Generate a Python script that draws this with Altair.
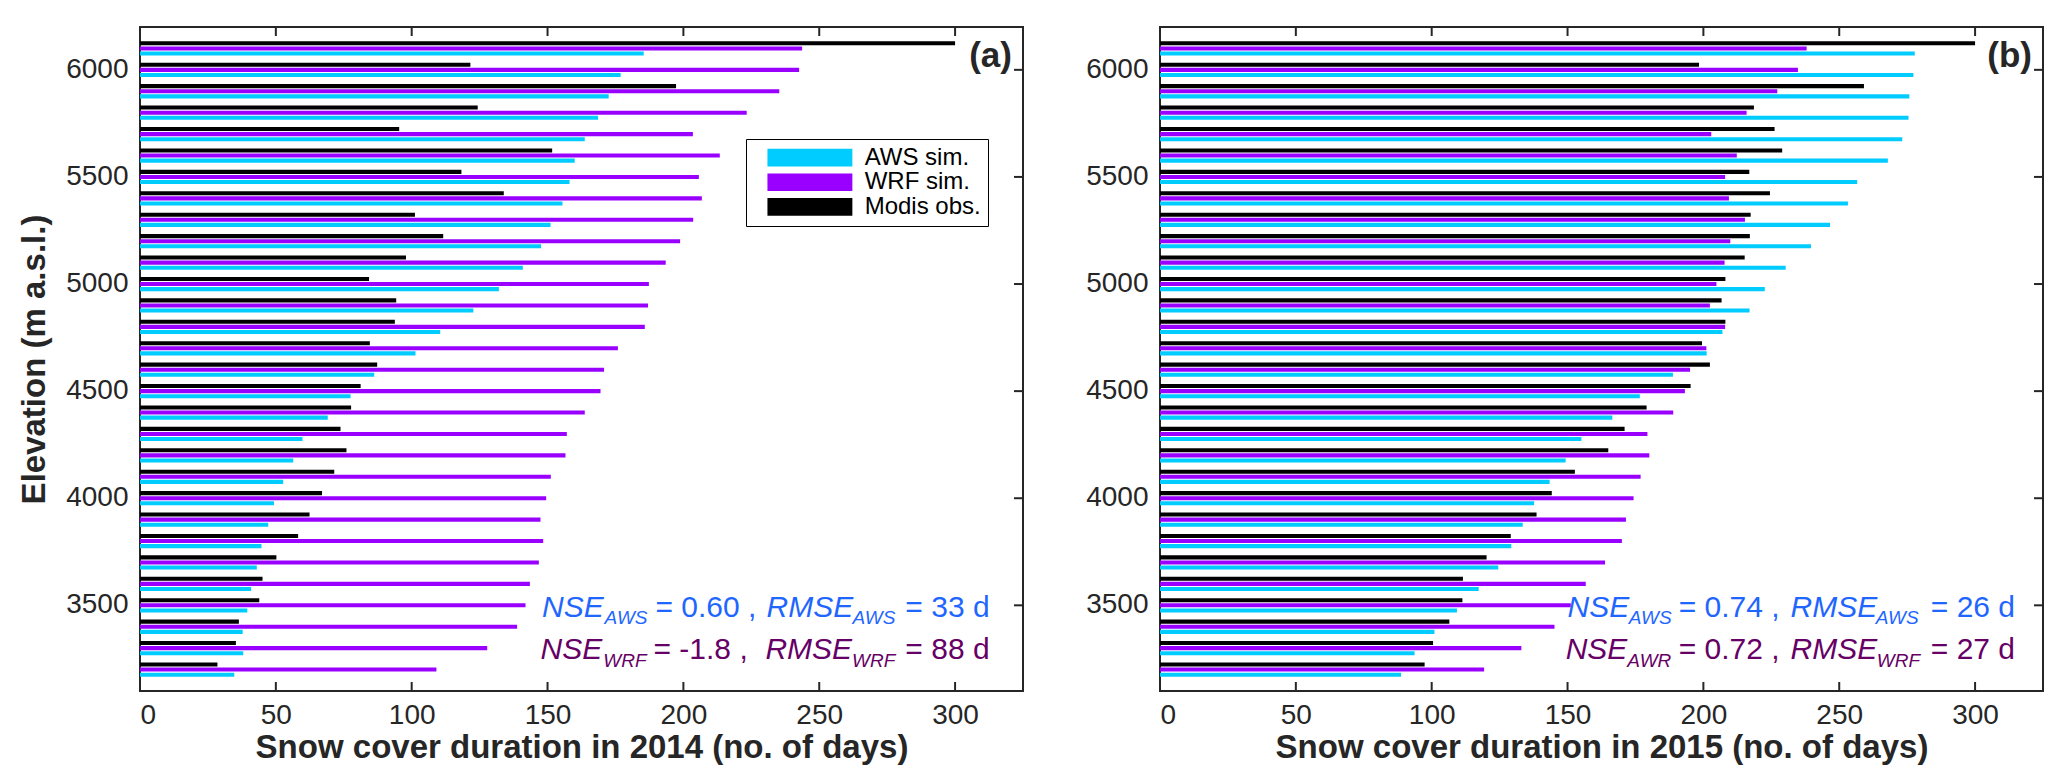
import altair as alt
import pandas as pd

# ---------------- data ----------------
elevations = [6100, 6000, 5900, 5800, 5700, 5600, 5500, 5400, 5300, 5200,
              5100, 5000, 4900, 4800, 4700, 4600, 4500, 4400, 4300, 4200,
              4100, 4000, 3900, 3800, 3700, 3600, 3500, 3400, 3300, 3200]

aws_2014 = [185.4, 176.9, 172.5, 168.6, 163.7, 160.0, 158.1, 155.5, 151.1, 147.6,
            140.9, 132.1, 122.7, 110.5, 101.4, 86.2, 77.5, 69.1, 59.8, 56.4,
            52.7, 49.3, 47.2, 44.7, 43.0, 40.9, 39.5, 37.8, 38.0, 34.7]
wrf_2014 = [243.7, 242.6, 235.3, 223.3, 203.5, 213.4, 205.7, 206.8, 203.6, 198.8,
            193.5, 187.3, 187.0, 185.8, 175.9, 170.8, 169.5, 163.7, 157.1, 156.6,
            151.2, 149.5, 147.4, 148.4, 146.8, 143.5, 141.9, 138.8, 127.8, 109.1]
modis_2014 = [300.0, 121.6, 197.3, 124.3, 95.4, 151.7, 118.3, 133.9, 101.2, 111.6,
              97.9, 84.3, 94.3, 93.8, 84.6, 87.3, 81.2, 77.7, 73.8, 76.0,
              71.5, 67.0, 62.4, 58.2, 50.2, 45.1, 43.9, 36.4, 35.3, 28.5]

aws_2015 = [277.8, 277.3, 275.8, 275.5, 273.2, 267.9, 256.6, 253.2, 246.6, 239.6,
            230.3, 222.6, 217.0, 207.0, 201.2, 188.8, 176.6, 166.5, 155.1, 149.3,
            143.4, 137.7, 133.5, 129.3, 124.5, 117.3, 109.3, 101.0, 93.7, 88.7]
wrf_2015 = [238.0, 234.8, 227.2, 215.9, 202.9, 212.3, 208.0, 209.4, 215.3, 209.9,
            207.8, 204.8, 202.4, 208.0, 201.1, 195.1, 193.2, 188.9, 179.4, 180.1,
            176.9, 174.3, 171.5, 170.0, 163.8, 156.7, 151.2, 145.2, 133.0, 119.3]
modis_2015 = [300.0, 198.4, 259.1, 218.6, 226.2, 229.0, 216.9, 224.5, 217.4, 217.1,
              215.2, 208.1, 206.7, 208.1, 199.5, 202.4, 195.3, 179.1, 171.0, 165.0,
              152.7, 144.2, 138.6, 129.1, 120.2, 111.5, 111.3, 106.5, 100.5, 97.4]

series_names = ["AWS sim.", "WRF sim.", "Modis obs."]
offset_order = ["Modis obs.", "WRF sim.", "AWS sim."]
series_colors = ["#00ccff", "#9900ff", "#000000"]

x_ticks = [0, 50, 100, 150, 200, 250, 300]
y_ticks = [6000, 5500, 5000, 4500, 4000, 3500]

# statistics text: (text, kind, start position in days)
stats_a_line1 = [("NSE", "it", 148.0), ("AWS", "sub", 171.0), ("= 0.60 ,", "rm", 189.7),
                 ("RMSE", "it", 230.6), ("AWS", "sub", 262.2), ("= 33 d", "rm", 281.7)]
stats_a_line2 = [("NSE", "it", 147.4), ("WRF", "sub", 170.5), ("= -1.8 ,", "rm", 189.0),
                 ("RMSE", "it", 230.2), ("WRF", "sub", 262.1), ("= 88 d", "rm", 281.7)]
stats_b_line1 = [("NSE", "it", 150.0), ("AWS", "sub", 172.5), ("= 0.74 ,", "rm", 190.9),
                 ("RMSE", "it", 232.1), ("AWS", "sub", 263.4), ("= 26 d", "rm", 283.7)]
stats_b_line2 = [("NSE", "it", 149.3), ("AWR", "sub", 172.0), ("= 0.72 ,", "rm", 190.9),
                 ("RMSE", "it", 232.1), ("WRF", "sub", 263.8), ("= 27 d", "rm", 283.7)]

# ---------------- layout / style ----------------
W, H = 883, 664
FONT = "Liberation Sans"
FRAME = "#262626"
LINE1_COLOR = "#1f66ff"
LINE2_COLOR = "#660066"
LINE_Y = {1: (590, 597), 2: (632, 640)}
TICK_LEN = 9


def build_panel(aws, wrf, modis, panel_label, xtitle, ytitle, lines, show_legend):
    rows = []
    for e, a, w, m in zip(elevations, aws, wrf, modis):
        rows.append({"elev": e, "series": "AWS sim.", "days": a})
        rows.append({"elev": e, "series": "WRF sim.", "days": w})
        rows.append({"elev": e, "series": "Modis obs.", "days": m})
    df = pd.DataFrame(rows)

    yscale = alt.Scale(domain=elevations, paddingInner=1 / 3, paddingOuter=2 / 3)
    xscale = alt.Scale(domain=[0, 325], nice=False, zero=True)

    xaxis = alt.Axis(values=x_ticks, title=xtitle, labelPadding=10, titlePadding=2)
    if ytitle:
        yaxis = alt.Axis(values=y_ticks, title=ytitle, labelPadding=12, titlePadding=14)
    else:
        yaxis = alt.Axis(values=y_ticks, title=None, labelPadding=12, titlePadding=14)

    if show_legend:
        # swatch path: a 85 x 17.7 px bar starting at the entry's left side
        legend = alt.Legend(
            orient="none", legendX=606, legendY=112, title=None,
            strokeColor="#000000", fillColor="#ffffff", padding=6.65,
            labelFontSize=24, labelColor="#000000", labelFont=FONT,
            symbolType="M0.316,-1L9.916,-1L9.916,1L0.316,1Z", symbolSize=313,
            symbolStrokeWidth=0, symbolOpacity=1, labelOffset=88, rowPadding=0.6,
        )
    else:
        legend = None

    bars = alt.Chart(df).mark_bar(strokeWidth=0).encode(
        x=alt.X("days:Q", scale=xscale, axis=xaxis),
        y=alt.Y("elev:O", scale=yscale, axis=yaxis),
        yOffset=alt.YOffset("series:N", scale=alt.Scale(domain=offset_order, paddingInner=0.2)),
        color=alt.Color("series:N", scale=alt.Scale(domain=series_names, range=series_colors),
                        legend=legend),
    )

    # inward tick marks (MATLAB style) on top, bottom and right edges
    xt = alt.Chart(pd.DataFrame({"days": x_ticks}))
    yt = alt.Chart(pd.DataFrame({"elev": y_ticks}))
    tick_style = dict(color=FRAME, strokeWidth=2)
    top_ticks = xt.mark_rule(**tick_style).encode(
        x=alt.X("days:Q", scale=xscale, axis=xaxis), y=alt.value(0), y2=alt.value(TICK_LEN))
    bottom_ticks = xt.mark_rule(**tick_style).encode(
        x=alt.X("days:Q", scale=xscale, axis=xaxis), y=alt.value(H), y2=alt.value(H - TICK_LEN))
    right_ticks = yt.mark_rule(**tick_style).encode(
        y=alt.Y("elev:O", scale=yscale, axis=yaxis), x=alt.value(W), x2=alt.value(W - TICK_LEN))

    layers = [bars, top_ticks, bottom_ticks, right_ticks]

    # statistics annotations
    for line_no, (segs, color) in enumerate(lines, start=1):
        y_main, y_sub = LINE_Y[line_no]
        for kind in ["it", "rm", "sub"]:
            part = [{"txt": t, "days": x} for (t, k, x) in segs if k == kind]
            if not part:
                continue
            size = 19 if kind == "sub" else 30
            style = "normal" if kind == "rm" else "italic"
            ypos = y_sub if kind == "sub" else y_main
            layers.append(
                alt.Chart(pd.DataFrame(part)).mark_text(
                    align="left", baseline="alphabetic", fontSize=size, fontStyle=style,
                    color=color, font=FONT,
                ).encode(x=alt.X("days:Q", scale=xscale, axis=xaxis), y=alt.value(ypos), text="txt:N")
            )

    label = alt.Chart(pd.DataFrame({"lab": [panel_label]})).mark_text(
        align="right", baseline="alphabetic", fontSize=35, fontWeight="bold", color="#262626", font=FONT,
    ).encode(x=alt.value(W - 11), y=alt.value(40), text="lab:N")
    layers.append(label)

    return alt.layer(*layers).properties(width=W, height=H)


panel_a = build_panel(aws_2014, wrf_2014, modis_2014, "(a)",
                      "Snow cover duration in 2014 (no. of days)", "Elevation (m a.s.l.)",
                      [(stats_a_line1, LINE1_COLOR), (stats_a_line2, LINE2_COLOR)], True)
panel_b = build_panel(aws_2015, wrf_2015, modis_2015, "(b)",
                      "Snow cover duration in 2015 (no. of days)", None,
                      [(stats_b_line1, LINE1_COLOR), (stats_b_line2, LINE2_COLOR)], False)

chart = alt.hconcat(panel_a, panel_b, spacing=137, bounds="flush").resolve_legend(
    color="independent"
).properties(
    padding={"left": 9, "top": 17, "right": 5, "bottom": 5}
).configure(
    font=FONT
).configure_view(
    stroke=FRAME, strokeWidth=2
).configure_axis(
    labelFont=FONT, labelFontSize=28, labelColor=FRAME,
    titleFont=FONT, titleFontSize=33, titleFontWeight="bold", titleColor=FRAME,
    ticks=False, tickSize=0, domain=False, grid=False,
)

chart.save("out.html", embed_options={"renderer": "svg", "actions": False})
